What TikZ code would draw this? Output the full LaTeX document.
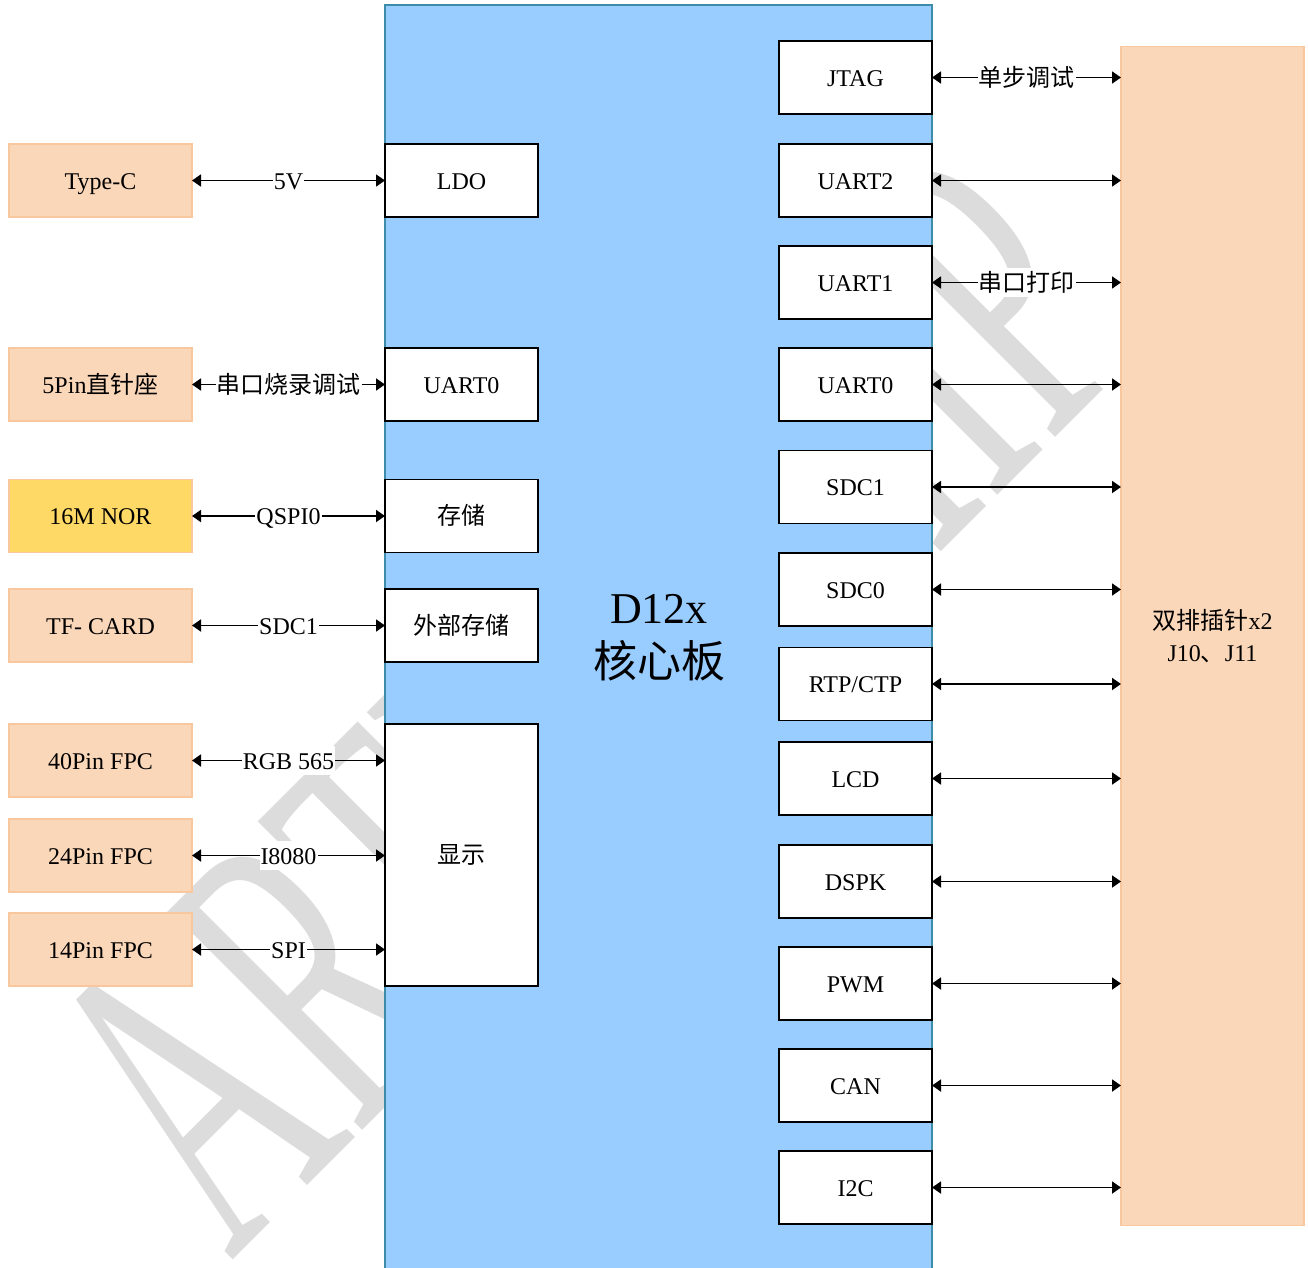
\documentclass[tikz,border=0pt]{standalone}
\usepackage{fontspec}
\setmainfont{Liberation Serif}
\newfontfamily\cjk{Noto Sans CJK SC}
\usetikzlibrary{arrows.meta}
\definecolor{bluefill}{RGB}{153,204,255}
\definecolor{blueline}{RGB}{60,140,170}
\definecolor{orfill}{RGB}{251,215,185}
\definecolor{orline}{RGB}{248,199,158}
\definecolor{yelfill}{RGB}{255,217,102}
\definecolor{wmgray}{RGB}{220,220,220}
\begin{document}
\begin{tikzpicture}[x=1pt,y=-1pt,
 txt/.style={font=\fontsize{24}{28}\selectfont, text height=22pt, text depth=5pt},
 wbox/.style={txt, draw=black, line width=1.8pt, fill=white, minimum width=153pt, minimum height=73pt, inner sep=0pt, outer sep=0pt},
 obox/.style={txt, draw=orline, line width=1.5pt, fill=orfill, minimum width=183pt, minimum height=73pt, inner sep=0pt, outer sep=0pt},
 arr/.style={line width=1.8pt, {Triangle[length=9pt,width=12pt]}-{Triangle[length=9pt,width=12pt]}},
 lbl/.style={txt, fill=white, inner sep=1pt},
 wm/.style={text=wmgray, inner sep=0pt, font=\fontsize{446}{446}\selectfont},
]
\useasboundingbox (0,0) rectangle (1308,1267);
\clip (0,0) rectangle (1308,1267);
\fill[white] (0,0) rectangle (1308,1267);

% watermark
\node[wm, rotate=45, xscale=0.55, anchor=base west] (wmk) at (231,1262) {ARTINCHIP};

% core board
\node[draw=blueline, fill=bluefill, line width=1.8pt, minimum width=547pt, minimum height=1275pt, anchor=north west, inner sep=0pt, outer sep=0pt] (core) at (385,5) {};
\node[align=center, font=\fontsize{44}{54}\selectfont] (title) at (659,638) {D12x\\{\cjk 核心板}};

% left external boxes
\node[obox] (typec) at (100.5,180.5) {Type-C};
\node[obox] (pin5) at (100.5,384.5) {5Pin{\cjk 直针座}};
\node[obox, fill=yelfill] (nor) at (100.5,516) {16M NOR};
\node[obox] (tf) at (100.5,625.5) {TF- CARD};
\node[obox] (fpc40) at (100.5,760.5) {40Pin FPC};
\node[obox] (fpc24) at (100.5,855.5) {24Pin FPC};
\node[obox] (fpc14) at (100.5,949.5) {14Pin FPC};

% left inner boxes
\node[wbox] (ldo) at (461.5,180.5) {LDO};
\node[wbox] (luart0) at (461.5,384.5) {UART0};
\node[wbox] (store) at (461.5,516) {\cjk 存储};
\node[wbox] (estore) at (461.5,625.5) {\cjk 外部存储};
\node[wbox, minimum height=262pt] (disp) at (461.5,855) {\cjk 显示};

% left connectors
\draw[arr] (typec.east) -- (ldo.west) node[midway, lbl] {5V};
\draw[arr] (pin5.east) -- (luart0.west) node[midway, lbl] {\cjk 串口烧录调试};
\draw[arr] (nor.east) -- (store.west) node[midway, lbl] {QSPI0};
\draw[arr] (tf.east) -- (estore.west) node[midway, lbl] {SDC1};
\draw[arr] (fpc40.east) -- (fpc40.east -| disp.west) node[midway, lbl] {RGB 565};
\draw[arr] (fpc24.east) -- (fpc24.east -| disp.west) node[midway, lbl] {I8080};
\draw[arr] (fpc14.east) -- (fpc14.east -| disp.west) node[midway, lbl] {SPI};

% right header box
\node[draw=orline, line width=1.5pt, fill=orfill, minimum width=183pt, minimum height=1179pt, inner sep=0pt, outer sep=0pt, align=center, font=\fontsize{24}{32}\selectfont] (hdr) at (1212.5,636) {{\cjk 双排插针}x2\\J10{\cjk 、}J11};

% right inner boxes
\node[wbox] (jtag) at (855.5,77.5) {JTAG};
\node[wbox] (uart2) at (855.5,180.5) {UART2};
\node[wbox] (uart1) at (855.5,282.5) {UART1};
\node[wbox] (ruart0) at (855.5,384.5) {UART0};
\node[wbox] (sdc1) at (855.5,487) {SDC1};
\node[wbox] (sdc0) at (855.5,589.5) {SDC0};
\node[wbox] (rtp) at (855.5,684) {RTP/CTP};
\node[wbox] (lcd) at (855.5,778.5) {LCD};
\node[wbox] (dspk) at (855.5,881.5) {DSPK};
\node[wbox] (pwm) at (855.5,983.5) {PWM};
\node[wbox] (can) at (855.5,1085.5) {CAN};
\node[wbox] (i2c) at (855.5,1187.5) {I2C};

% right connectors
\draw[arr] (jtag.east) -- (jtag.east -| hdr.west) node[midway, lbl] {\cjk 单步调试};
\draw[arr] (uart2.east) -- (uart2.east -| hdr.west);
\draw[arr] (uart1.east) -- (uart1.east -| hdr.west) node[midway, lbl] {\cjk 串口打印};
\draw[arr] (ruart0.east) -- (ruart0.east -| hdr.west);
\draw[arr] (sdc1.east) -- (sdc1.east -| hdr.west);
\draw[arr] (sdc0.east) -- (sdc0.east -| hdr.west);
\draw[arr] (rtp.east) -- (rtp.east -| hdr.west);
\draw[arr] (lcd.east) -- (lcd.east -| hdr.west);
\draw[arr] (dspk.east) -- (dspk.east -| hdr.west);
\draw[arr] (pwm.east) -- (pwm.east -| hdr.west);
\draw[arr] (can.east) -- (can.east -| hdr.west);
\draw[arr] (i2c.east) -- (i2c.east -| hdr.west);
\end{tikzpicture}
\end{document}
